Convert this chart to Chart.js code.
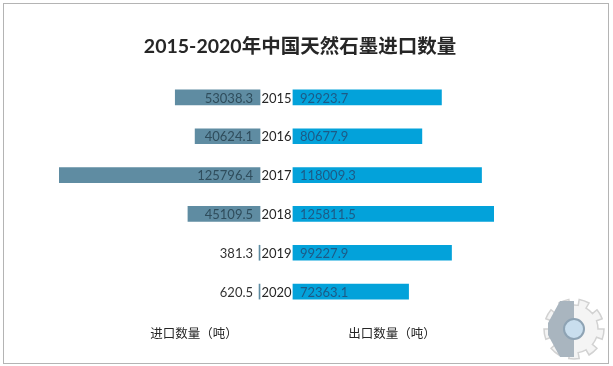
<!DOCTYPE html>
<html>
<head>
<meta charset="utf-8">
<script src="https://cdn.jsdelivr.net/npm/chart.js@4/dist/chart.umd.min.js"></script>
<style>
  html, body { margin: 0; padding: 0; background: #fff; }
  #wrap { position: absolute; left: 3px; top: 3px; width: 604px; height: 359px; border: 1px solid #b4b4b4; }
  #chart { position: absolute; left: -4px; top: -4px; }
</style>
</head>
<body>
<div id="wrap"><canvas id="chart" width="613" height="366"></canvas></div>
<script>
// datos
const years = ['2015', '2016', '2017', '2018', '2019', '2020'];
const importQty = [53038.3, 40624.1, 125796.4, 45109.5, 381.3, 620.5];
const exportQty = [92923.7, 80677.9, 118009.3, 125811.5, 99227.9, 72363.1];
const titleText = '2015-2020年中国天然石墨进口数量';
const importLabel = '进口数量（吨）';
const exportLabel = '出口数量（吨）';

// hueco central para los años (en unidades de datos)
const GAP = 10300;
const FONT = "Lato, 'Noto Sans CJK SC', sans-serif";

const labelsPlugin = {
    id: 'butterflyLabels',
    afterDatasetsDraw(chart) {
        const { ctx, scales: { x, y } } = chart;
        ctx.save();
        // título
        ctx.fillStyle = '#262626';
        ctx.textAlign = 'center';
        ctx.textBaseline = 'middle';
        ctx.font = 'bold 19.5px ' + FONT;
        ctx.fillText(titleText, 300, 47);

        ctx.font = '13px ' + FONT;
        years.forEach((yr, i) => {
            const cy = y.getPixelForValue(i);
            const left = x.getPixelForValue(-GAP);
            const right = x.getPixelForValue(GAP);
            // año en el centro
            ctx.fillStyle = '#262626';
            ctx.textAlign = 'center';
            ctx.fillText(yr, (left + right) / 2, cy + 1);
            // importación
            ctx.textAlign = 'right';
            ctx.fillStyle = importQty[i] > 5000 ? '#2f4d5c' : '#333333';
            ctx.fillText(importQty[i].toFixed(1), left - 7, cy + 1);
            // exportación
            ctx.textAlign = 'left';
            ctx.fillStyle = '#1d5a86';
            ctx.fillText(exportQty[i].toFixed(1), right + 7, cy + 1);
        });
        // etiquetas inferiores
        ctx.fillStyle = '#262626';
        ctx.textAlign = 'center';
        ctx.font = "12.5px 'Noto Sans CJK SC', sans-serif";
        ctx.fillText(importLabel, 194, 333);
        ctx.fillText(exportLabel, 392, 333);
        ctx.restore();
    },
    afterDraw(chart) {
        // marca de agua (engranaje) abajo a la derecha
        const ctx = chart.ctx;
        const cx = 574, cy = 329;
        ctx.save();
        ctx.beginPath();
        const teeth = 9;
        for (let k = 0; k < teeth * 2; k++) {
            const r = k % 2 === 0 ? 30 : 24;
            const a0 = (k / (teeth * 2)) * Math.PI * 2;
            const a1 = ((k + 1) / (teeth * 2)) * Math.PI * 2;
            ctx.arc(cx, cy, r, a0, a1);
        }
        ctx.closePath();
        ctx.fillStyle = '#f4f4f4';
        ctx.fill();
        ctx.strokeStyle = '#d2d2d2';
        ctx.lineWidth = 1.5;
        ctx.stroke();
        // mitad izquierda más oscura
        ctx.beginPath();
        ctx.moveTo(cx, cy - 28);
        ctx.lineTo(cx - 14, cy - 28);
        ctx.lineTo(cx - 26, cy - 6);
        ctx.lineTo(cx - 26, cy + 6);
        ctx.lineTo(cx - 14, cy + 28);
        ctx.lineTo(cx, cy + 28);
        ctx.closePath();
        ctx.fillStyle = '#a9b5bf';
        ctx.fill();
        // círculo central
        ctx.beginPath();
        ctx.arc(cx, cy, 10, 0, Math.PI * 2);
        ctx.fillStyle = '#c9deee';
        ctx.fill();
        ctx.strokeStyle = '#8ea3b4';
        ctx.lineWidth = 2;
        ctx.stroke();
        ctx.restore();
    }
};

new Chart(document.getElementById('chart'), {
    type: 'bar',
    data: {
        labels: years,
        datasets: [
            {
                label: importLabel,
                data: importQty.map(v => [-GAP - v, -GAP]),
                backgroundColor: '#5f8ca2',
                barThickness: 15,
                minBarLength: 1,
                grouped: false
            },
            {
                label: exportLabel,
                data: exportQty.map(v => [GAP, GAP + v]),
                backgroundColor: '#03a2da',
                barThickness: 15,
                grouped: false
            }
        ]
    },
    options: {
        indexAxis: 'y',
        responsive: false,
        animation: false,
        layout: { padding: { left: 59, right: 119, bottom: 55, top: 78 } },
        scales: {
            x: { display: false, min: -GAP - 125796.4, max: GAP + 125811.5 },
            y: { display: false }
        },
        plugins: {
            legend: { display: false },
            tooltip: { enabled: false },
            title: { display: false }
        }
    },
    plugins: [labelsPlugin]
});
</script>
</body>
</html>
